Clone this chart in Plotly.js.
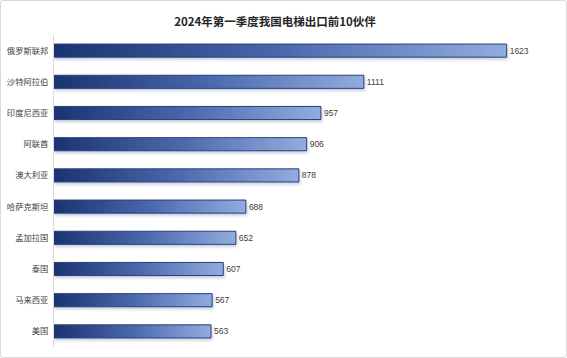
<!DOCTYPE html>
<html><head><meta charset="utf-8">
<script src="https://cdn.plot.ly/plotly-3.0.1.min.js"></script>
<style>
html,body{margin:0;padding:0;background:#fff;}
#wrap{position:absolute;left:0;top:0;width:565px;height:356px;border:1px solid #d9d9d9;border-radius:3px;}
#chart{position:absolute;left:0;top:0;width:567px;height:358px;}
</style></head>
<body>
<div id="wrap"></div>
<div id="chart"></div>
<script>
const categories = ["俄罗斯联邦","沙特阿拉伯","印度尼西亚","阿联酋","澳大利亚","哈萨克斯坦","孟加拉国","泰国","马来西亚","美国"];
const values = [1623, 1111, 957, 906, 878, 688, 652, 607, 567, 563];
const chartTitle = "2024年第一季度我国电梯出口前10伙伴";

const trace = {
  type: "bar",
  orientation: "h",
  y: categories,
  x: values,
  width: 0.42,
  marker: {color: "#3d5a9e", line: {color: "#2a4178", width: 1}},
  text: values.map(String),
  textposition: "outside",
  textfont: {family: "Liberation Sans, Arial, sans-serif", size: 8.5, color: "#404040"},
  cliponaxis: false,
  hoverinfo: "none"
};
const layout = {
  width: 567, height: 358,
  margin: {l: 54, r: 11, t: 35, b: 11},
  paper_bgcolor: "rgba(0,0,0,0)",
  plot_bgcolor: "rgba(0,0,0,0)",
  title: {text: chartTitle, x: 0.485, xanchor: "center", y: 0.94, yanchor: "middle",
          font: {family: "Noto Sans CJK SC, sans-serif", size: 11.5, color: "#262626", weight: "bold"}},
  xaxis: {range: [0, 1800], visible: false, showgrid: false, zeroline: false},
  yaxis: {autorange: "reversed", showline: true, linecolor: "#d9d9d9", linewidth: 1,
          ticks: "", showgrid: false,
          tickfont: {family: "Noto Sans CJK SC, sans-serif", size: 8.3, color: "#404040"}, ticklabelstandoff: 3},
  showlegend: false
};
Plotly.newPlot("chart", [trace], layout, {displayModeBar: false, staticPlot: true}).then(function(){
  const svg = document.querySelector("#chart svg.main-svg");
  const NS = "http://www.w3.org/2000/svg";
  let defs = svg.querySelector("defs");
  if (!defs) { defs = document.createElementNS(NS, "defs"); svg.insertBefore(defs, svg.firstChild); }
  const g = document.createElementNS(NS, "linearGradient");
  g.setAttribute("id", "barGrad");
  g.setAttribute("x1", "0"); g.setAttribute("y1", "0"); g.setAttribute("x2", "1"); g.setAttribute("y2", "0");
  [["0", "#1b3370"], ["0.5", "#4a68ad"], ["1", "#93acdf"]].forEach(function(s){
    const st = document.createElementNS(NS, "stop");
    st.setAttribute("offset", s[0]); st.setAttribute("stop-color", s[1]);
    g.appendChild(st);
  });
  defs.appendChild(g);
  const f = document.createElementNS(NS, "filter");
  f.setAttribute("id", "barShadow");
  f.setAttribute("x", "-5%"); f.setAttribute("y", "-50%"); f.setAttribute("width", "110%"); f.setAttribute("height", "200%");
  const ds = document.createElementNS(NS, "feDropShadow");
  ds.setAttribute("dx", "1"); ds.setAttribute("dy", "2"); ds.setAttribute("stdDeviation", "1.5");
  ds.setAttribute("flood-color", "#5a6f9e"); ds.setAttribute("flood-opacity", "0.35");
  f.appendChild(ds);
  defs.appendChild(f);
  document.querySelectorAll("#chart .bars .point path").forEach(function(p){
    p.style.fill = "url(#barGrad)";
    p.style.fillOpacity = "1";
    p.setAttribute("filter", "url(#barShadow)");
  });
});
</script>
</body></html>
